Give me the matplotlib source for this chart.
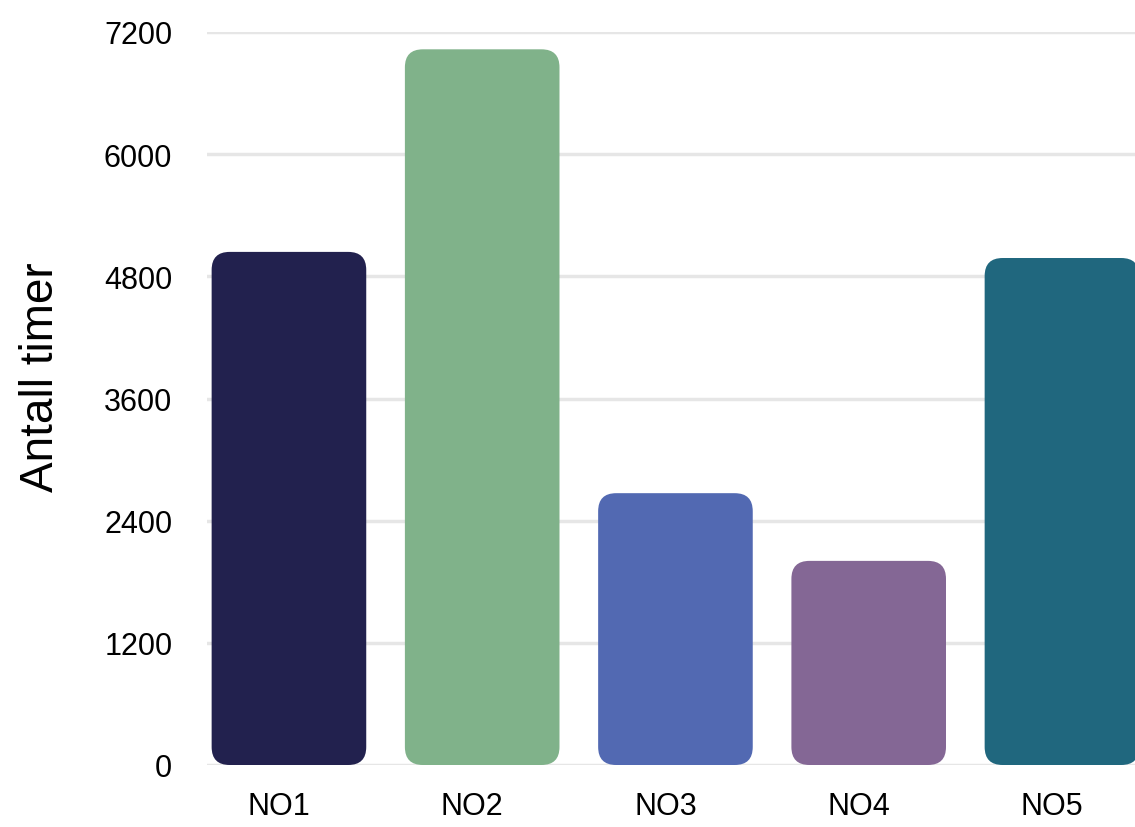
import matplotlib
matplotlib.use("Agg")
import matplotlib.pyplot as plt
import matplotlib.transforms as mtransforms
from matplotlib.patches import FancyBboxPatch

categories = ["NO1", "NO2", "NO3", "NO4", "NO5"]
values = [5040, 7030, 2670, 2005, 4980]
colors = ["#22214e", "#80b28a", "#5269b2", "#846795", "#20677e"]
yticks = [0, 1200, 2400, 3600, 4800, 6000, 7200]
ylabel = "Antall timer"

plt.rcParams["font.family"] = ["Liberation Sans", "DejaVu Sans"]

W, H = 1135, 828
fig = plt.figure(figsize=(W / 100, H / 100), dpi=100)
ax_l, ax_b, ax_w, ax_h = 207, 62, 928, 733
ax = fig.add_axes([ax_l / W, ax_b / H, ax_w / W, ax_h / H])
xmin, xmax = -0.424, 4.378
ymin, ymax = 0, 7200
ax.set_xlim(xmin, xmax)
ax.set_ylim(ymin, ymax)

bars = ax.bar(range(len(categories)), values, width=0.8, color=colors)

px_x = ax_w / (xmax - xmin)
px_y = ax_h / (ymax - ymin)
radius_px = 18
r = radius_px / px_x
m = px_x / px_y
for b, c in zip(bars, colors):
    x, y = b.get_x(), b.get_y()
    w, h = b.get_width(), b.get_height()
    b.set_visible(False)
    p = FancyBboxPatch((x, y), w, h,
                       boxstyle=f"round,pad=0,rounding_size={r}",
                       mutation_aspect=m, facecolor=c, edgecolor="none",
                       zorder=3, clip_on=False)
    ax.add_patch(p)

ax.set_yticks(yticks)
ax.set_yticklabels([str(t) for t in yticks])
ax.set_xticks(range(len(categories)))
ax.set_xticklabels(categories)
ax.grid(axis="y", color="#e6e6e6", linewidth=2.5, zorder=0)
ax.set_axisbelow(True)
for s in ax.spines.values():
    s.set_visible(False)
ax.tick_params(axis="both", length=0, labelsize=22, colors="black")
ax.tick_params(axis="y", pad=25)
ax.tick_params(axis="x", pad=19)
offset = mtransforms.ScaledTranslation(-10 / 100, 0, fig.dpi_scale_trans)
for lbl in ax.get_xticklabels():
    lbl.set_transform(lbl.get_transform() + offset)
ax.set_ylabel(ylabel, fontsize=33)
ax.yaxis.set_label_coords(-0.155, 0.53)

fig.savefig("out.png", dpi=100)
